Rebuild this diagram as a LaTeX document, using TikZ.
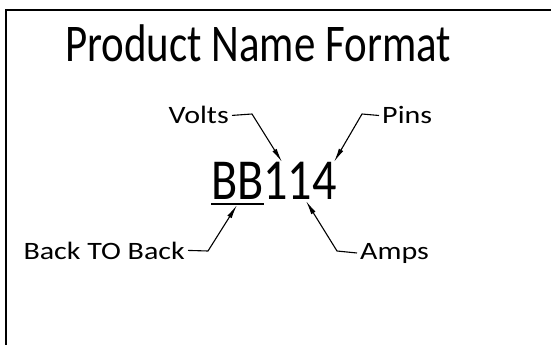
\documentclass[tikz,border=0pt]{standalone}
\usepackage{fontspec}
\setmainfont{Carlito}
\usetikzlibrary{arrows.meta,positioning}

\tikzset{
  lbl/.style={inner sep=0pt,xscale=1.2,transform shape,font=\fontsize{25}{27}\selectfont},
  leader/.style={line width=1.1pt,-{Latex[length=14pt,width=5pt]}}
}

\begin{document}
\begin{tikzpicture}[x=1pt,y=-1pt]
  \useasboundingbox (0,0) rectangle (551,345);
  % Frame
  \draw[line width=1.6pt] (6,345) -- (6,10) -- (551,10);
  % Title
  \node[inner sep=0pt,xscale=0.81,transform shape,font=\fontsize{53}{56}\selectfont,anchor=base] (title) at (258,62) {Product Name Format};
  % Product name
  \node[inner sep=0pt,xscale=0.83,transform shape,font=\fontsize{58}{60}\selectfont,anchor=base west] (name) at (211,199) {BB114};
  \coordinate (ulA) at (211,204);
  \coordinate (ulB) at (264,204);
  \draw[line width=1.1pt] (ulA) -- (ulB);
  % Labels
  \node[lbl,anchor=base east] (volts) at (229,123) {Volts};
  \node[lbl,anchor=base west] (pins) at (382,123) {Pins};
  \node[lbl,anchor=base east] (back) at (185,259) {Back TO Back};
  \node[lbl,anchor=base west] (amps) at (360,259) {Amps};
  % Leader points
  \coordinate (tipV) at (282,162);
  \coordinate (tipP) at (334,162);
  \coordinate (tipB) at (237,205);
  \coordinate (tipA) at (306,201);
  % Leaders
  \draw[leader] ([xshift=3pt,yshift=-1pt]volts.east) -- (252,114) -- (tipV);
  \draw[leader] ([xshift=-3pt,yshift=-1pt]pins.west) -- (362,114) -- (tipP);
  \draw[leader] ([xshift=3pt]back.east) -- (208,251) -- (tipB);
  \draw[leader] ([xshift=-3pt]amps.west) -- (337,251) -- (tipA);
\end{tikzpicture}
\end{document}
